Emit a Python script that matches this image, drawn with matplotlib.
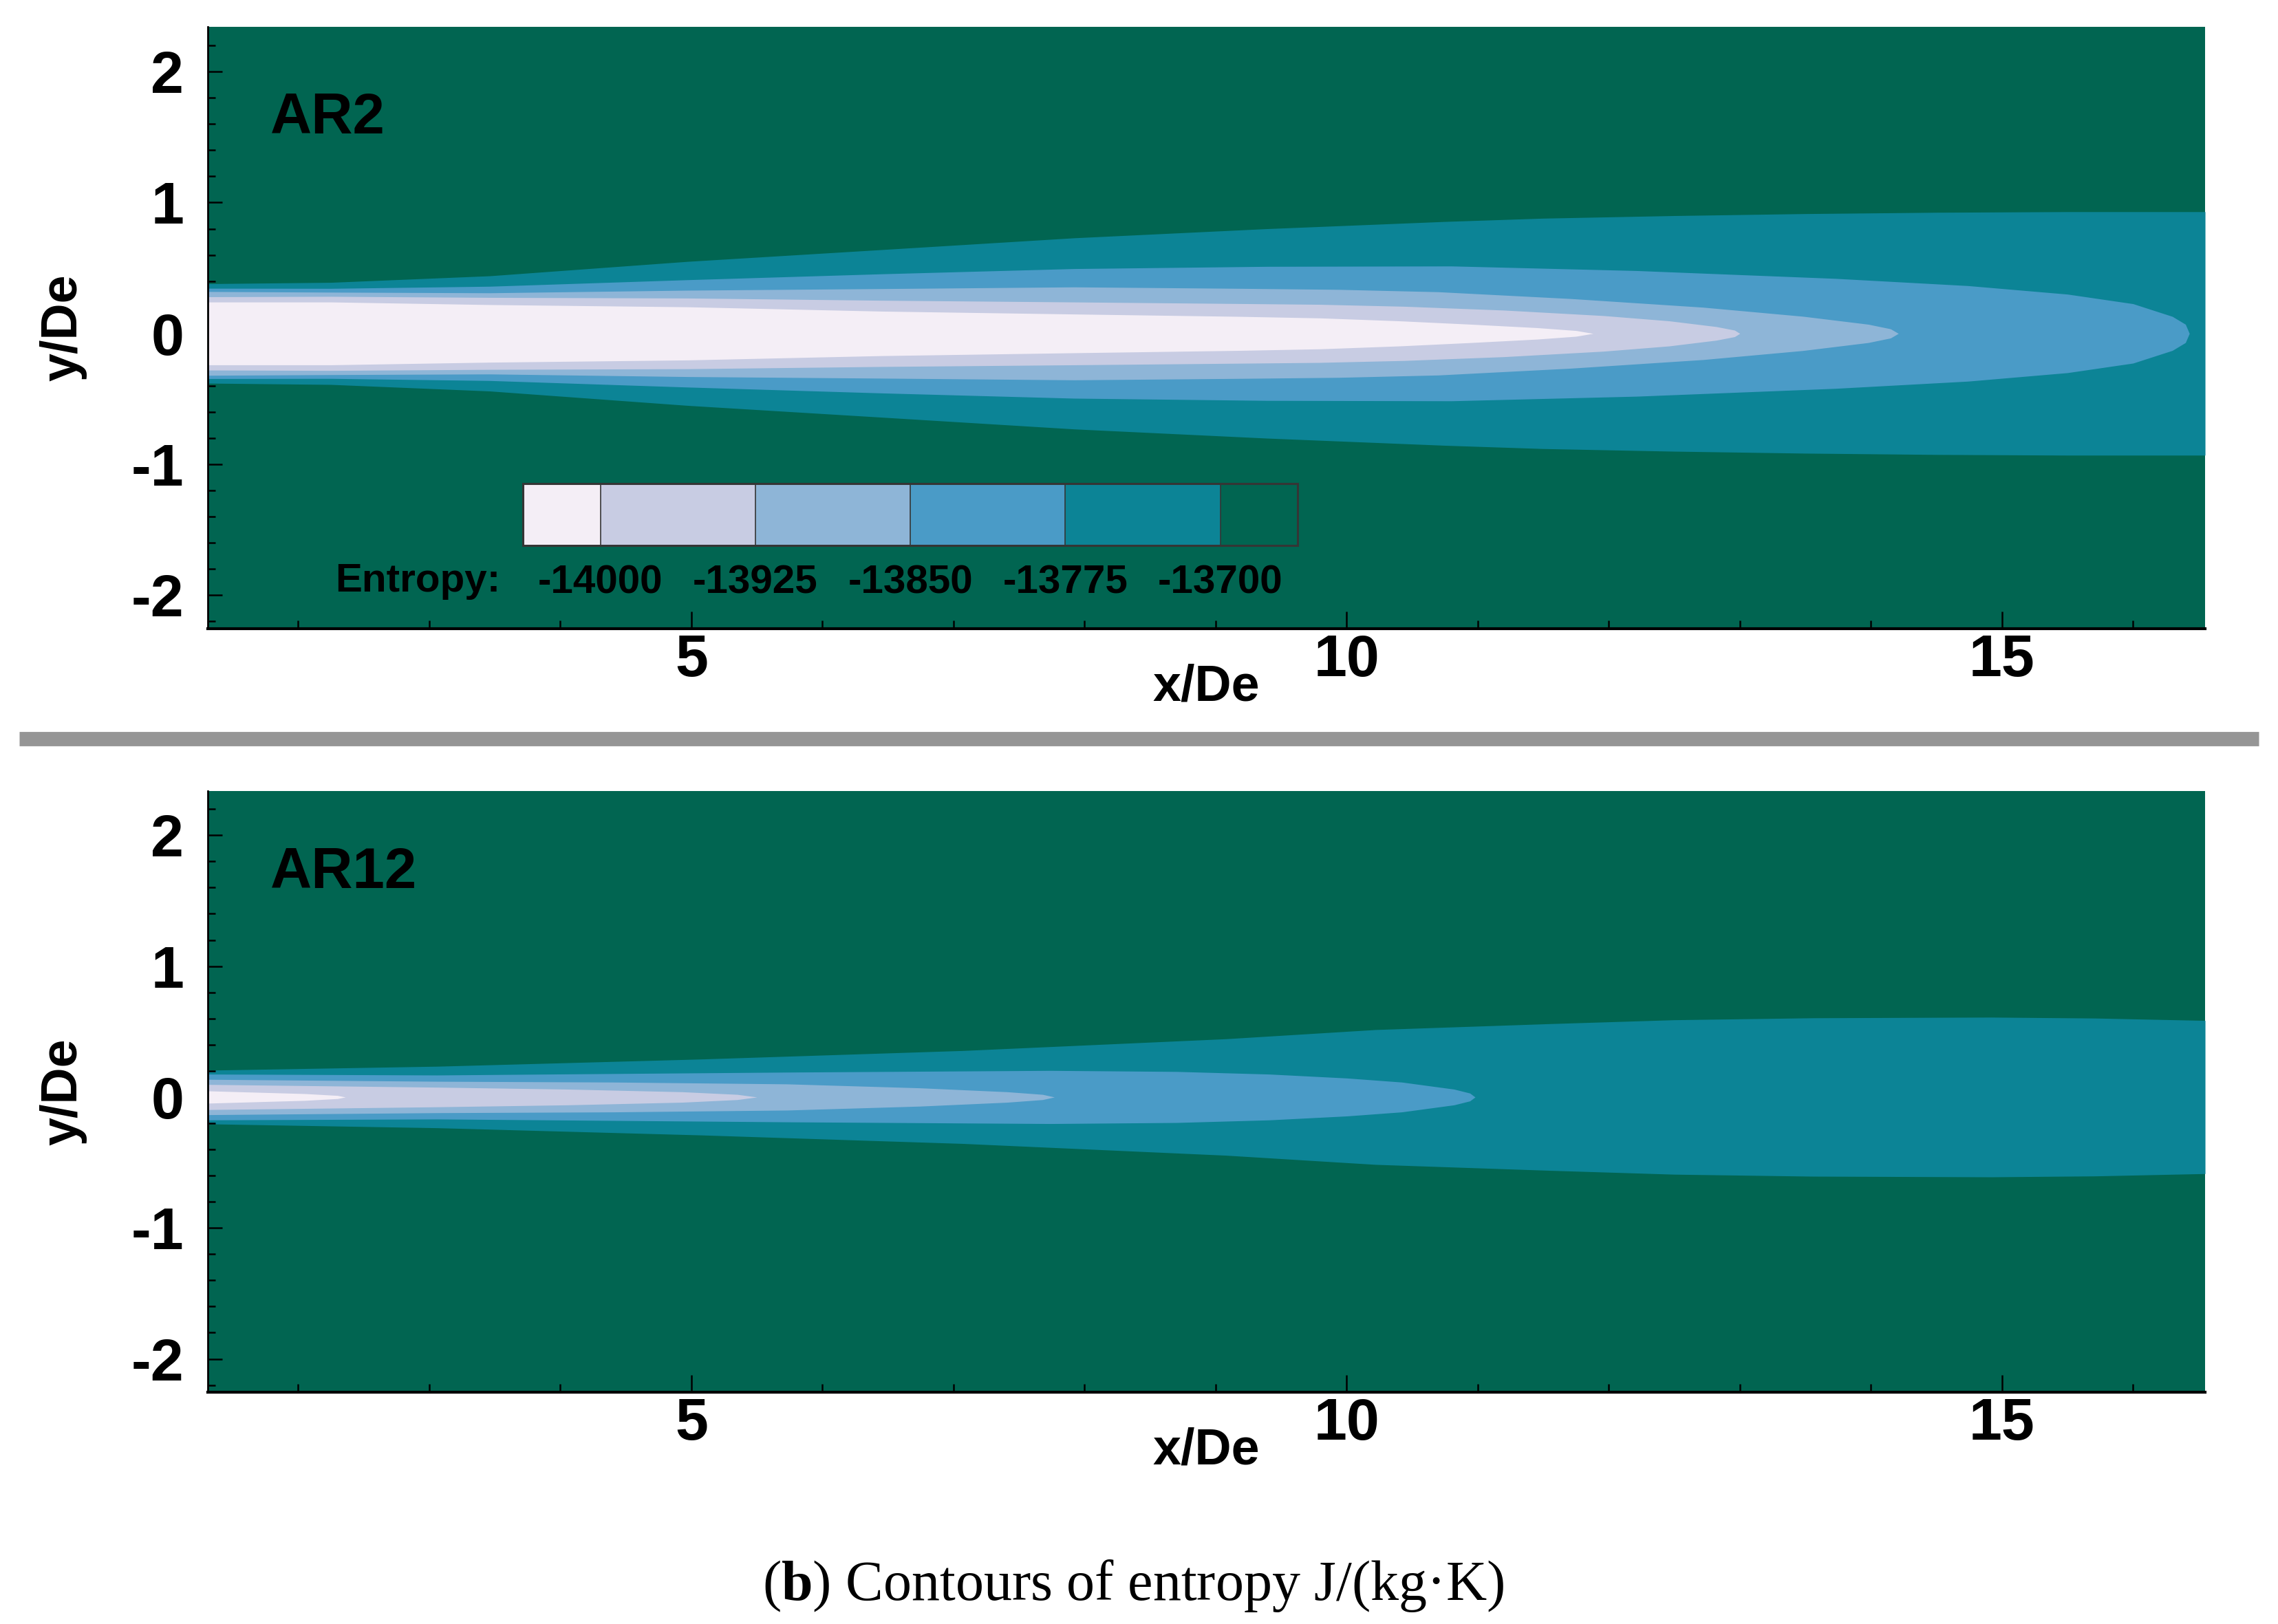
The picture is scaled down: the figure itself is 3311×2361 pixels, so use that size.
import matplotlib
matplotlib.use("Agg")
import matplotlib.pyplot as plt
from matplotlib.colors import ListedColormap, BoundaryNorm
from matplotlib.cm import ScalarMappable
from matplotlib.ticker import MultipleLocator
from matplotlib.lines import Line2D
import numpy as np

plt.rcParams['font.family'] = ['Liberation Sans', 'DejaVu Sans']
plt.rcParams['axes.unicode_minus'] = False
plt.rcParams['mathtext.fontset'] = 'custom'
plt.rcParams['mathtext.rm'] = 'Liberation Serif'
plt.rcParams['mathtext.bf'] = 'Liberation Serif:bold'

# ---------------- data ----------------
levels = [-14000, -13925, -13850, -13775, -13700]
level_labels = ['-14000', '-13925', '-13850', '-13775', '-13700']
# colour below -14000, four interior bands, colour above -13700
band_colors = ['#F4EEF6', '#C8CCE3', '#8EB5D7', '#4A9BC7', '#0C8496', '#016551']

panel_names = ['AR2', 'AR12']

# AR2: half-width (y/De) of each iso-entropy contour along x/De
ar2_x_13700 = [1.31, 2.25, 3.46, 4.97, 6.45, 7.92, 9.39, 10.75, 11.5, 12.5, 13.5, 14.5, 15.5, 16.55]
ar2_h_13700 = [0.38, 0.39, 0.44, 0.55, 0.64, 0.73, 0.80, 0.855, 0.88, 0.90, 0.915, 0.925, 0.93, 0.93]
ar2_x_13775 = [1.31, 2.25, 3.46, 4.97, 6.45, 7.92, 9.39, 10.8, 12.21, 13.73, 14.74, 15.5, 16.0, 16.3, 16.4, 16.43]
ar2_h_13775 = [0.345, 0.344, 0.36, 0.41, 0.455, 0.495, 0.512, 0.515, 0.48, 0.42, 0.365, 0.30, 0.227, 0.13, 0.07, 0.0]
ar2_x_13850 = [1.31, 2.25, 3.46, 4.97, 6.45, 7.92, 9.18, 9.94, 10.7, 11.71, 12.72, 13.48, 13.98, 14.15, 14.21]
ar2_h_13850 = [0.32, 0.315, 0.31, 0.33, 0.342, 0.355, 0.344, 0.336, 0.318, 0.266, 0.20, 0.131, 0.07, 0.035, 0.0]
ar2_x_13925 = [1.31, 2.25, 3.46, 4.97, 6.45, 7.92, 9.18, 9.79, 10.44, 11.2, 11.96, 12.46, 12.82, 12.96, 13.0]
ar2_h_13925 = [0.28, 0.283, 0.275, 0.27, 0.253, 0.24, 0.228, 0.222, 0.207, 0.178, 0.136, 0.096, 0.052, 0.025, 0.0]
ar2_x_14000 = [1.31, 2.25, 3.46, 4.97, 6.45, 7.92, 9.18, 9.8, 10.4, 10.95, 11.45, 11.75, 11.88]
ar2_h_14000 = [0.24, 0.24, 0.22, 0.203, 0.17, 0.148, 0.13, 0.118, 0.096, 0.07, 0.044, 0.022, 0.0]

# AR12
ar12_x_13700 = [1.31, 3.06, 5.07, 7.07, 9.08, 10.22, 11.54, 12.5, 13.56, 14.92, 15.71, 16.55]
ar12_h_13700 = [0.205, 0.235, 0.29, 0.355, 0.445, 0.515, 0.56, 0.59, 0.605, 0.61, 0.603, 0.585]
ar12_x_13775 = [1.31, 3.06, 5.73, 7.74, 8.7, 9.41, 10.0, 10.42, 10.82, 10.94, 10.98]
ar12_h_13775 = [0.175, 0.168, 0.19, 0.203, 0.195, 0.175, 0.145, 0.114, 0.06, 0.03, 0.0]
ar12_x_13850 = [1.31, 3.06, 4.4, 5.73, 6.74, 7.41, 7.68, 7.77]
ar12_h_13850 = [0.135, 0.12, 0.114, 0.10, 0.07, 0.04, 0.02, 0.0]
ar12_x_13925 = [1.31, 3.06, 4.06, 4.93, 5.35, 5.5]
ar12_h_13925 = [0.096, 0.075, 0.06, 0.04, 0.02, 0.0]
ar12_x_14000 = [1.31, 2.05, 2.3, 2.36]
ar12_h_14000 = [0.047, 0.026, 0.012, 0.0]

x_limits = (1.31, 16.55)
y_limits = (-2.255, 2.34)
x_major_ticks = [5, 10, 15]
y_major_ticks = [-2, -1, 0, 1, 2]

caption = r'($\mathbf{b}$) Contours of entropy J/(kg·K)'

# contours listed from outermost (-13700) to innermost (-14000); fill colour = band inside
ar2_contours = [(ar2_x_13700, ar2_h_13700), (ar2_x_13775, ar2_h_13775), (ar2_x_13850, ar2_h_13850),
                (ar2_x_13925, ar2_h_13925), (ar2_x_14000, ar2_h_14000)]
ar12_contours = [(ar12_x_13700, ar12_h_13700), (ar12_x_13775, ar12_h_13775), (ar12_x_13850, ar12_h_13850),
                 (ar12_x_13925, ar12_h_13925), (ar12_x_14000, ar12_h_14000)]

# ---------------- figure ----------------
fig = plt.figure(figsize=(33.11, 23.61), dpi=100)
ax_w = 0.8768
ax_h = 0.3704
ax_top = fig.add_axes([0.0912, 0.6129, ax_w, ax_h])
ax_bot = fig.add_axes([0.0912, 0.1427, ax_w, ax_h])

label_y = {'AR2': 0.848, 'AR12': 0.863}

for ax, name, contours in [(ax_top, 'AR2', ar2_contours), (ax_bot, 'AR12', ar12_contours)]:
    ax.set_facecolor(band_colors[5])
    for i, (xs, hs) in enumerate(contours):
        xs = np.asarray(xs)
        hs = np.asarray(hs)
        ax.fill_between(xs, -hs, hs, color=band_colors[4 - i], linewidth=0, zorder=1 + i)
    ax.set_xlim(*x_limits)
    ax.set_ylim(*y_limits)
    ax.set_xticks(x_major_ticks)
    ax.set_yticks(y_major_ticks)
    ax.xaxis.set_minor_locator(MultipleLocator(1))
    ax.yaxis.set_minor_locator(MultipleLocator(0.2))
    ax.tick_params(axis='both', which='both', direction='in', colors='black', width=1.8, zorder=10)
    ax.tick_params(axis='y', which='major', length=15, pad=25, labelsize=62)
    ax.tick_params(axis='y', which='minor', length=8)
    ax.tick_params(axis='x', which='major', length=18, pad=5, labelsize=62)
    ax.tick_params(axis='x', which='minor', length=9)
    for lbl in ax.get_xticklabels() + ax.get_yticklabels():
        lbl.set_fontweight('bold')
    ax.spines['top'].set_visible(False)
    ax.spines['right'].set_visible(False)
    ax.spines['left'].set_linewidth(2)
    ax.spines['bottom'].set_linewidth(3)
    for sp in ax.spines.values():
        sp.set_zorder(10)
    ax.set_xlabel('x/De', fontsize=53, fontweight='bold')
    ax.xaxis.set_label_coords(0.5, -0.097)
    ax.xaxis.label.set_va('center')
    ax.set_ylabel('y/De', fontsize=53, fontweight='bold')
    ax.yaxis.set_label_coords(-0.0723, 0.5)
    ax.yaxis.label.set_va('center')
    ax.yaxis.label.set_ha('center')
    ax.text(0.0313, label_y[name], name, transform=ax.transAxes, fontsize=60,
            fontweight='bold', ha='left', va='center', zorder=20)

# legend (colour bar) inside top panel
cax = ax_top.inset_axes([0.1578, 0.1384, 0.3879, 0.1029])
cmap = ListedColormap(band_colors[1:5])
cmap.set_under(band_colors[0])
cmap.set_over(band_colors[5])
norm = BoundaryNorm(levels, cmap.N)
cb = fig.colorbar(ScalarMappable(norm=norm, cmap=cmap), cax=cax, orientation='horizontal',
                  extend='both', extendrect=True, extendfrac=0.125, drawedges=True, ticks=levels)
cb.outline.set_edgecolor('#353535')
cb.outline.set_linewidth(2.2)
cb.dividers.set_color('#353535')
cb.dividers.set_linewidth(1.2)
cax.tick_params(length=0, labelsize=42, pad=20)
cax.set_xticklabels(level_labels)
for lbl in cax.get_xticklabels():
    lbl.set_fontweight('bold')
ax_top.text(0.1464, 0.079, 'Entropy:', transform=ax_top.transAxes, fontsize=42,
            fontweight='bold', ha='right', va='center', zorder=20)

# separator between the panels
fig.add_artist(Line2D([0.0085, 0.9915], [0.5451, 0.5451], transform=fig.transFigure,
                      color='#959595', linewidth=15, solid_capstyle='butt'))

# caption
fig.text(0.4975, 0.0233, caption, fontsize=59, ha='center', va='center',
         family=['Liberation Serif', 'DejaVu Serif'])

fig.savefig('out.png', dpi=100, facecolor='white')
